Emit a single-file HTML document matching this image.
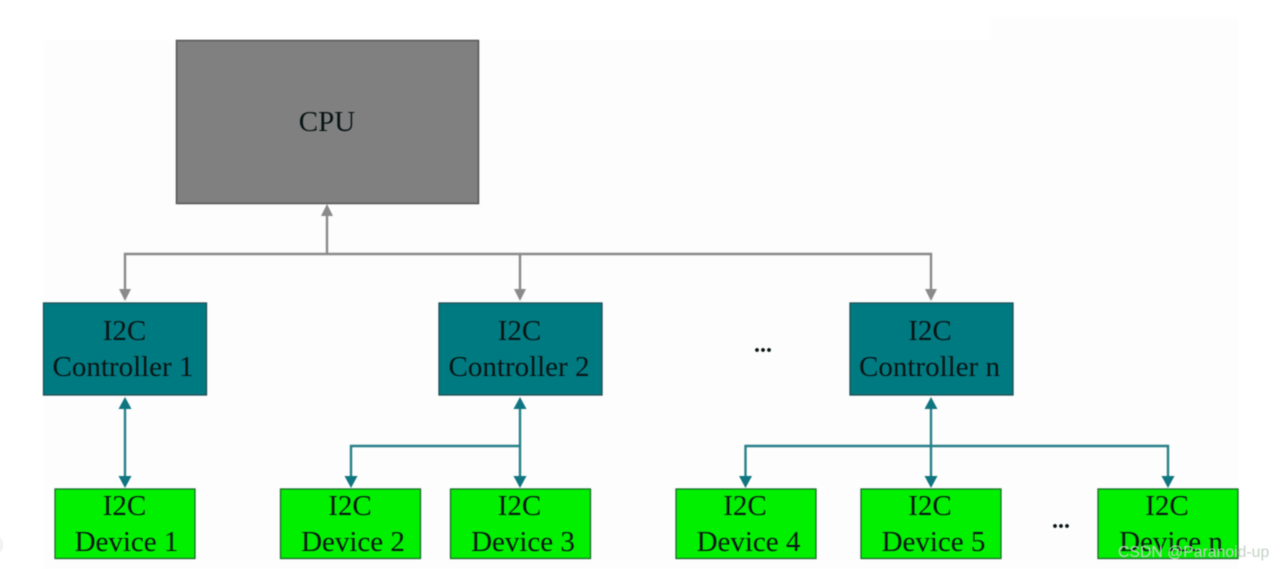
<!DOCTYPE html>
<html>
<head>
<meta charset="utf-8">
<style>
html,body{margin:0;padding:0;background:#fff;width:1284px;height:569px;overflow:hidden}
svg{display:block;filter:blur(.5px)}
text{font-family:"Liberation Serif",serif;font-size:29px;fill:#081414;text-anchor:middle}
.wm{font-family:"Liberation Sans",sans-serif;font-size:15.800px;text-anchor:start;fill:#c4d0c4}
</style>
</head>
<body>
<svg width="1284" height="569" viewBox="0 0 1284 569" xmlns="http://www.w3.org/2000/svg">
<rect width="1284" height="569" fill="#fff"/>
<path d="M43 40H991V17H1238V569H43Z" fill="#fdfdfd"/>
<circle cx="-9" cy="545" r="12" fill="#f0f0f0"/>

<g fill="none" stroke="#8a8a8a" stroke-width="2.400">
<path d="M327 213V254"/>
<path d="M125 291V254H931V291"/>
<path d="M520 254V291"/>
</g>
<g fill="#8a8a8a">
<path d="M327 204L333 216H321Z"/>
<path d="M125 301L119 289H131Z"/>
<path d="M520 301L514 289H526Z"/>
<path d="M931 301L925 289H937Z"/>
</g>

<g fill="none" stroke="#26808a" stroke-width="2.400">
<path d="M125 405V480"/>
<path d="M520 405V480"/>
<path d="M351 480V446H520"/>
<path d="M931 405V480"/>
<path d="M745.500 480V446H1168V480"/>
</g>
<g fill="#0f7580">
<path d="M125 397L131.500 409H118.500Z"/><path d="M125 488L118.500 476H131.500Z"/>
<path d="M520 397L526.500 409H513.500Z"/><path d="M520 488L513.500 476H526.500Z"/>
<path d="M351 488L344.500 476H357.500Z"/>
<path d="M931 397L937.500 409H924.500Z"/><path d="M931 488L924.500 476H937.500Z"/>
<path d="M745.500 488L739 476H752Z"/>
<path d="M1168 488L1161.500 476H1174.500Z"/>
</g>

<rect x="176.500" y="40.500" width="302" height="163" fill="#808080" stroke="#555" stroke-width="1.500"/>

<g fill="#007a81" stroke="#1f4f55" stroke-width="1.300">
<rect x="43.500" y="303" width="163" height="92"/>
<rect x="439" y="303" width="163" height="92"/>
<rect x="850" y="303" width="163" height="92"/>
</g>

<g fill="#00f000" stroke="#1c6b2c" stroke-width="1.300">
<rect x="55" y="489" width="140" height="69.500"/>
<rect x="280.500" y="489" width="140" height="69.500"/>
<rect x="450.500" y="489" width="140" height="69.500"/>
<rect x="676" y="489" width="140" height="69.500"/>
<rect x="861" y="489" width="140" height="69.500"/>
<rect x="1098" y="489" width="140" height="69.500"/>
</g>

<text x="327" y="131">CPU</text>

<text x="124.500" y="340">I2C</text>
<text x="123" y="376">Controller 1</text>
<text x="519.500" y="340">I2C</text>
<text x="519" y="376">Controller 2</text>
<text x="930" y="340">I2C</text>
<text x="929.500" y="376">Controller n</text>

<text x="124.500" y="515">I2C</text>
<text x="126.500" y="551">Device 1</text>
<text x="350" y="515">I2C</text>
<text x="353" y="551">Device 2</text>
<text x="519.500" y="515">I2C</text>
<text x="523" y="551">Device 3</text>
<text x="745" y="515">I2C</text>
<text x="748.500" y="551">Device 4</text>
<text x="930" y="515">I2C</text>
<text x="933.500" y="551">Device 5</text>
<text x="1167" y="515">I2C</text>
<text x="1171" y="551">Device n</text>

<text x="763" y="352" style="font-size:24px;font-weight:bold">...</text>
<text x="1061" y="528" style="font-size:24px;font-weight:bold">...</text>

<text class="wm" x="1118" y="557">CSDN @Paranoid-up</text>
</svg>
</body>
</html>
